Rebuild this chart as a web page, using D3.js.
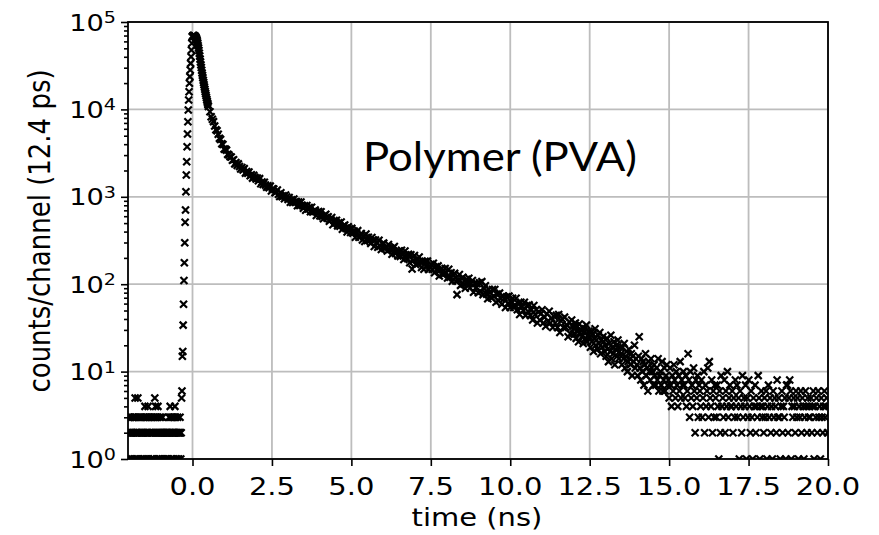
<!DOCTYPE html>
<html><head><meta charset="utf-8">
<script src="https://cdn.jsdelivr.net/npm/d3@7/dist/d3.min.js"></script>
<style>body{margin:0;background:#fff}svg{display:block}</style>
</head><body><svg id="chart" width="879" height="535"></svg>
<script>
// ---- data (counts per channel) ----
const channelWidthNs = 0.0124;   // 12.4 ps per channel
const startTimeNs = -2.03;       // first channel shown
// contiguous channels: background before the pulse, rising edge, peak
const preCounts = [2,1,3,2,2,3,1,2,3,2, 1,2,3,2,0,2,3,1,5,2, 3,2,1,2,2,5,3,1,2,3, 2,0,3,2,1,2,3,2,2,1,
  3,2,1,4,2,3,2,1,3,2, 2,4,1,3,2,2,3,0,2,1, 3,2,2,1,3,2,1,3,5,2, 4,3,2,1,2,3,4,2,1,2,
  3,2,1,2,3,2,2,1,3,2, 2,1,2,0,2,1,2,2,1,2, 1,2,2,1,3,2,2,4,3,2, 1,3,2,2,3,1,2,3,2,4,
  2,3,1,2,2,1,3,2,2,1, 2,2,3,2,1,2,5,6];
const riseCounts = [15,17,34,59,110,176,298,511,706,1143,1775,2520,3745,5230,7230,9840,12800,15950,
  19900,23700,28200,33600,40100,47800,57000,67900];
const peakCounts = [68500,69800,69200,70100,69500,69000,68600,67800,66900,65400,63800,61900,59500,56800,
  53600,50400,47200,43900,40800,37600,34800,32300,30100,28000,26100,24500,23000,21600,20300,19100,
  18000,17000,16000,15200,14400,13700,13000,12400,11800,11300,10800];
// every 3rd channel from 0.55 ns
const midStartNs = 0.5496, midStride = 3;
const midCounts = [
  9410,8240,7710,7250,6450,5860,5700,5190,4670,4520,
  4040,3960,3510,3510,3420,3060,3020,2870,2860,2620,
  2660,2380,2460,2290,2380,2220,2080,2160,2030,2100,
  1865,1945,1855,1920,1740,1785,1635,1765,1675,1595,
  1640,1530,1615,1410,1480,1385,1465,1360,1285,1340,
  1270,1325,1165,1235,1230,1115,1140,1195,1070,1010,
  1110,1005,1030,950,1050,995,935,980,865,925,
  860,945,865,885,790,870,795,870,800,740,
  790,700,795,725,755,675,760,670,682,705,
  610,665,680,605,675,595,560,615,630,570,
  590,525,550,580,480,535,505,540,465,505,
  460,515,425,465,475,435,395,455,430,390,
  435,383,407,345,385,410,345,355,380,320,
  355,308,375,317,345,320,293,342,320,270,
  320,300,265,318,275,250,290,295,255,265,
  240,285,250,260,220,260,270,225,237,210,
  240,208,245,216,192,240,215,197,220,176,
  217,149,186,213,168,191,171,205,180,155,
  181,148,183,162,184,147,160,169,148,174,
  135,158,146,162,124,146,152,128,132,151,
  135,118,148,120,135,108,127,133,109,76,
  111,129,97,116,120,100,90,114,104,117,
  91,102,110,81,101,91,101,80,104,83,
  107,76,89,96,77,68,87,80,70,87,
  73,87,62,77,65,79,69,59,73,69,
  54,72,60,73,54,62,69,54,58,69,
  51,60,45,62,55,50,62,44,57,49,
  58,44,51,39,57,45,51,36,48,39,
  46,51,36,42,33,46,38,49,36,41,
  32,43,36,44,32,45,28,38,40,32,
  42,32,34,25,37,27,39,33,27,33];
// every 2nd channel from 12 ns
const tailStartNs = 12.0, tailStride = 2;
const tailCounts = [31,27,36,24,33,29,22,35,28,30,25,32,21,28,31,24,34,22,26,29,
  25,19,29,22,27,17,24,31,20,23,18,26,21,28,16,23,19,25,22,17,
  20,15,24,18,13,21,17,26,14,19,16,22,12,18,20,15,23,14,17,19,
  16,12,19,14,21,11,15,17,10,13,18,14,12,16,9,15,13,20,11,14,
  12,9,15,25,11,8,14,10,13,7,12,16,9,11,6,13,10,8,14,11,
  10,7,12,9,7,11,8,14,6,9,10,7,13,6,8,11,6,9,12,7,
  8,5,11,7,4,9,6,12,8,5,10,7,4,9,6,13,5,8,7,10,
  7,5,9,4,6,16,8,3,10,5,7,4,11,6,2,8,5,9,3,7,
  6,4,8,3,5,10,2,7,4,6,11,3,13,5,4,8,2,6,3,7,
  5,3,7,4,1,6,2,9,4,5,3,8,2,6,4,10,3,5,7,4,
  4,6,2,5,3,8,4,7,3,5,1,6,4,2,9,3,5,4,7,1,
  5,3,8,4,2,6,3,1,5,4,7,2,4,3,9,5,1,4,6,3,
  4,2,5,3,6,1,4,7,3,5,2,4,1,6,3,5,4,2,8,3,
  5,3,1,4,6,2,4,3,5,1,7,7,2,5,8,6,1,4,3,5,
  4,2,6,3,5,1,4,3,6,2,5,4,1,3,6,4,2,5,3,4,
  3,5,2,4,6,1,4,3,5,2,6,3,4,1,5,3,2,4,6,3,4,5,2];
const xTicks = [0, 2.5, 5, 7.5, 10, 12.5, 15, 17.5, 20];
const yDecades = [0, 1, 2, 3, 4, 5];
const xLabel = "time (ns)";
const yLabel = "counts/channel (12.4 ps)";
const annotation = "Polymer (PVA)";

// ---- build points ----
const points = [];
preCounts.concat(riseCounts, peakCounts).forEach((c, i) => points.push({t: startTimeNs + i * channelWidthNs, c}));
midCounts.forEach((c, i) => points.push({t: midStartNs + i * midStride * channelWidthNs, c}));
tailCounts.forEach((c, i) => points.push({t: tailStartNs + i * tailStride * channelWidthNs, c}));
const shown = points.filter(p => p.c > 0);

// ---- layout ----
const L = 128, R = 828, T = 22, B = 459, SX = 1.16;
const svg = d3.select("#chart");
const x = d3.scaleLinear().domain([-2.03, 20]).range([L, R]);
const y = d3.scaleLog().domain([1, 1e5]).range([B, T]);
const font = "'DejaVu Sans', sans-serif";

svg.append("defs").append("clipPath").attr("id", "plot")
  .append("rect").attr("x", L).attr("y", T).attr("width", R - L).attr("height", B - T);

// grid
const grid = svg.append("g").attr("stroke", "#bdbdbd").attr("stroke-width", 1.8);
grid.selectAll("line.gx").data(xTicks).join("line").attr("class", "gx")
  .attr("x1", d => x(d)).attr("x2", d => x(d)).attr("y1", T).attr("y2", B);
grid.selectAll("line.gy").data(yDecades.map(e => Math.pow(10, e))).join("line").attr("class", "gy")
  .attr("x1", L).attr("x2", R).attr("y1", d => y(d)).attr("y2", d => y(d));

// markers
const m = 3.5;
svg.append("g").attr("clip-path", "url(#plot)")
  .selectAll("path").data(shown).join("path")
  .attr("d", d => `M${x(d.t) - m},${y(d.c) - m}L${x(d.t) + m},${y(d.c) + m}M${x(d.t) - m},${y(d.c) + m}L${x(d.t) + m},${y(d.c) - m}`)
  .attr("stroke", "#000").attr("stroke-width", 2.2).attr("fill", "none");

// axes ticks
const xAxis = svg.append("g").attr("transform", `translate(0,${B})`)
  .call(d3.axisBottom(x).tickValues(xTicks).tickSize(7).tickFormat(""));
const minor = [];
yDecades.slice(0, -1).forEach(e => { for (let k = 2; k <= 9; k++) minor.push(k * Math.pow(10, e)); });
const yAxisMinor = svg.append("g").attr("transform", `translate(${L},0)`)
  .call(d3.axisLeft(y).tickValues(minor).tickSize(4).tickFormat(""));
const yAxis = svg.append("g").attr("transform", `translate(${L},0)`)
  .call(d3.axisLeft(y).tickValues(yDecades.map(e => Math.pow(10, e))).tickSize(7).tickFormat(""));
[xAxis, yAxis, yAxisMinor].forEach(g => {
  g.select(".domain").remove();
  g.selectAll(".tick line").attr("stroke", "#000").attr("stroke-width", 1.6);
});

// spines
svg.append("rect").attr("x", L).attr("y", T).attr("width", R - L).attr("height", B - T)
  .attr("fill", "none").attr("stroke", "#000").attr("stroke-width", 1.8);

// x tick labels
svg.append("g").selectAll("text").data(xTicks).join("text")
  .attr("transform", d => `translate(${x(d)},495) scale(${SX},1)`)
  .attr("text-anchor", "middle").attr("font-family", font).attr("font-size", 25)
  .text(d => d3.format(".1f")(d));

// y tick labels 10^n
const yl = svg.append("g").selectAll("text").data(yDecades).join("text")
  .attr("transform", e => `translate(116,${y(Math.pow(10, e)) + 8.5}) scale(${SX},1)`)
  .attr("text-anchor", "end").attr("font-family", font).attr("font-size", 23.5);
yl.append("tspan").text("10");
yl.append("tspan").attr("dy", -7.5).attr("font-size", 16.5).text(e => String(e));

// axis labels
svg.append("text").attr("transform", `translate(477,526) scale(${SX},1)`)
  .attr("text-anchor", "middle").attr("font-family", font).attr("font-size", 25).text(xLabel);
svg.append("text").attr("transform", `translate(50,231) scale(${SX},1) rotate(-90)`)
  .attr("text-anchor", "middle").attr("font-family", font).attr("font-size", 26).text(yLabel);

// annotation
svg.append("text").attr("x", 363).attr("y", 171)
  .attr("font-family", "Lato, 'Open Sans', sans-serif").attr("font-size", 40)
  .attr("textLength", 274).attr("lengthAdjust", "spacingAndGlyphs").text(annotation);
</script></body></html>
